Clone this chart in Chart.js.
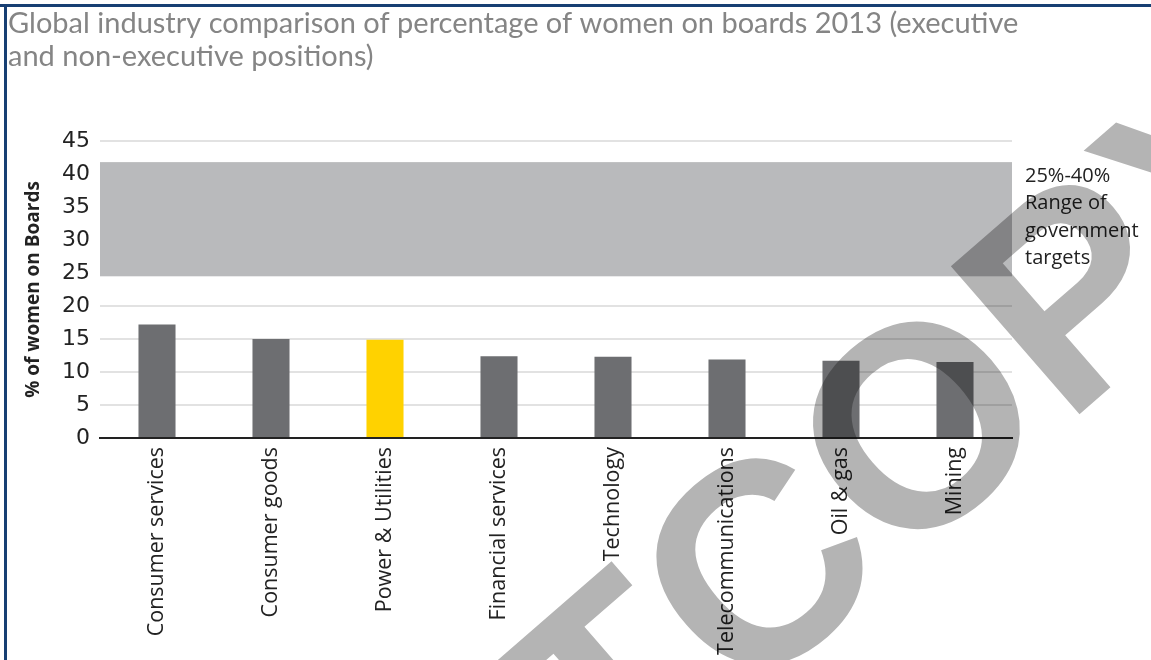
<!DOCTYPE html>
<html>
<head>
<meta charset="utf-8">
<script src="https://cdn.jsdelivr.net/npm/chart.js@4.4.1/dist/chart.umd.min.js"></script>
<style>
  html, body { margin: 0; padding: 0; background: #fff; }
  #wrap { width: 1151px; height: 660px; position: relative; }
</style>
</head>
<body>
<div id="wrap"><canvas id="boardsChart"></canvas></div>
<script>
// chart data
const industries = ['Consumer services', 'Consumer goods', 'Power & Utilities', 'Financial services',
  'Technology', 'Telecommunications', 'Oil & gas', 'Mining'];
const womenPct = [17.2, 15.0, 14.9, 12.4, 12.3, 11.9, 11.7, 11.5];
const barColors = ['#6d6e71', '#6d6e71', '#ffd200', '#6d6e71', '#6d6e71', '#6d6e71', '#6d6e71', '#6d6e71'];
const targetRange = [24.5, 41.8];
const targetNote = ['25%-40%', 'Range of', 'government', 'targets'];
const titleLines = ['Global industry comparison of percentage of women on boards 2013 (executive',
  'and non-executive positions)'];
const watermark = 'TCOPY';

// grey band for the government target range, under the bars
const targetBand = {
  id: 'targetBand',
  beforeDatasetsDraw(chart) {
    const { ctx, chartArea, scales } = chart;
    const yTop = scales.y.getPixelForValue(targetRange[1]);
    const yBot = scales.y.getPixelForValue(targetRange[0]);
    ctx.save();
    ctx.fillStyle = '#b9babc';
    ctx.fillRect(chartArea.left, yTop, chartArea.right - chartArea.left, yBot - yTop);
    ctx.fillStyle = '#222';
    ctx.font = '20px "Open Sans"';
    ctx.textBaseline = 'middle';
    targetNote.forEach((line, i) => {
      ctx.fillText(line, chartArea.right + 13, yTop + 14 + i * 27.5);
    });
    ctx.restore();
  }
};

// title text, watermark and frame lines
const frame = {
  id: 'frame',
  afterDraw(chart) {
    const { ctx } = chart;
    ctx.save();
    ctx.fillStyle = '#858585';
    ctx.font = '29px Lato';
    ctx.textBaseline = 'alphabetic';
    titleLines.forEach((line, i) => ctx.fillText(line, 8, 33 + i * 33));

    ctx.globalCompositeOperation = 'multiply';
    ctx.translate(930, 440);
    ctx.rotate(-41 * Math.PI / 180);
    ctx.fillStyle = '#b4b4b4';
    ctx.font = 'bold 285px "Liberation Sans"';
    ctx.textAlign = 'center';
    ctx.textBaseline = 'middle';
    ctx.fillText(watermark, 0, 0);
    ctx.restore();

    ctx.save();
    ctx.fillStyle = '#173f73';
    ctx.fillRect(0, 4, 1151, 3);
    ctx.fillRect(4, 4, 3, 656);
    ctx.restore();
  }
};

const ctx = document.getElementById('boardsChart').getContext('2d');
new Chart(ctx, {
  type: 'bar',
  data: {
    labels: industries,
    datasets: [{
      data: womenPct,
      backgroundColor: barColors,
      borderWidth: 0,
      categoryPercentage: 1,
      barPercentage: 0.325
    }]
  },
  options: {
    responsive: true,
    maintainAspectRatio: false,
    animation: false,
    layout: { padding: { left: 10, right: 139, top: 141, bottom: 0 } },
    plugins: {
      legend: { display: false },
      tooltip: { enabled: false }
    },
    scales: {
      x: {
        grid: { display: false, drawTicks: false },
        border: { display: true, color: '#222', width: 2 },
        ticks: {
          color: '#222',
          font: { family: 'Open Sans', size: 21.5 },
          minRotation: 90,
          maxRotation: 90,
          padding: 9
        },
        afterFit(scale) { scale.height = 222; }
      },
      y: {
        min: 0,
        max: 45,
        grid: { color: '#e2e2e2', lineWidth: 2, drawTicks: false },
        border: { display: false },
        ticks: {
          stepSize: 5,
          color: '#222',
          font: { family: 'DejaVu Sans', size: 22 },
          padding: 10
        },
        title: {
          display: true,
          text: '% of women on Boards',
          color: '#222',
          font: { family: 'Open Sans', size: 19, weight: 'bold' },
          padding: { top: 12, bottom: 0 }
        },
        afterFit(scale) { scale.width = 90; }
      }
    }
  },
  plugins: [targetBand, frame]
});
</script>
</body>
</html>
